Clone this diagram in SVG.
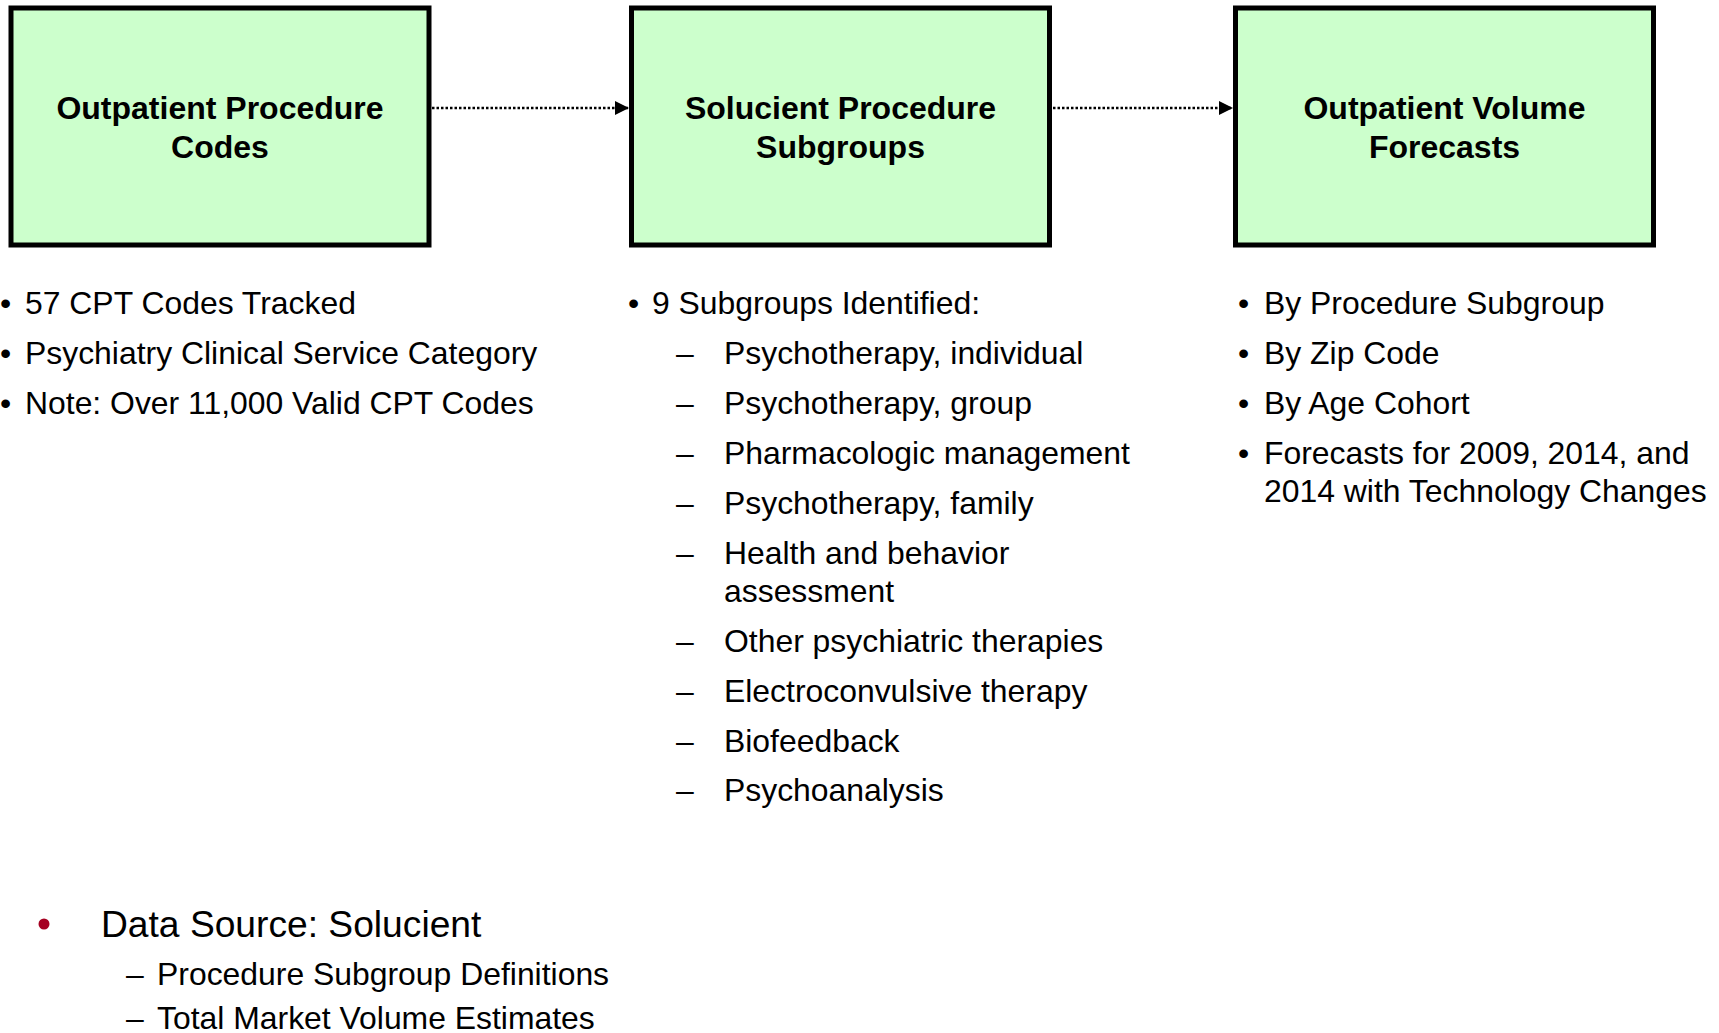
<svg xmlns="http://www.w3.org/2000/svg" width="1719" height="1033" viewBox="0 0 1719 1033">
<style>
.box{fill:#CCFFCC;stroke:#000;stroke-width:5}
.title{font-family:"Liberation Sans",Arial,sans-serif;font-weight:bold;font-size:32px;fill:#000;text-anchor:middle}
.t{font-family:"Liberation Sans",Arial,sans-serif;font-size:31.9px;fill:#000}
.big{font-family:"Liberation Sans",Arial,sans-serif;font-size:37.2px;fill:#000}
.conn{stroke:#000;stroke-width:2.5;stroke-dasharray:2.5 2;fill:none}
</style>
<defs>
<marker id="arr" viewBox="0 0 10 10" refX="10" refY="5" markerWidth="14" markerHeight="15" markerUnits="userSpaceOnUse" orient="auto">
<path d="M0,0 L10,5 L0,10 z" fill="#000"/>
</marker>
</defs>
<g id="connectors">
<line class="conn" x1="432" y1="108" x2="629" y2="108" marker-end="url(#arr)"/>
<line class="conn" x1="1053" y1="108" x2="1233" y2="108" marker-end="url(#arr)"/>
</g>
<g id="node-codes">
<rect class="box" x="11" y="8" width="418" height="237"/>
<text class="title" x="220" y="119">Outpatient Procedure</text>
<text class="title" x="220" y="158">Codes</text>
</g>
<g id="node-subgroups">
<rect class="box" x="631.5" y="8" width="418" height="237"/>
<text class="title" x="840.5" y="119">Solucient Procedure</text>
<text class="title" x="840.5" y="158">Subgroups</text>
</g>
<g id="node-forecasts">
<rect class="box" x="1235.5" y="8" width="418" height="237"/>
<text class="title" x="1444.5" y="119">Outpatient Volume</text>
<text class="title" x="1444.5" y="158">Forecasts</text>
</g>
<g id="notes-codes" class="t">
<text x="0" y="314">•</text><text x="25" y="314">57 CPT Codes Tracked</text>
<text x="0" y="364">•</text><text x="25" y="364">Psychiatry Clinical Service Category</text>
<text x="0" y="414">•</text><text x="25" y="414">Note: Over 11,000 Valid CPT Codes</text>
</g>
<g id="notes-subgroups" class="t">
<text x="628" y="314">•</text><text x="652" y="314">9 Subgroups Identified:</text>
<text x="676" y="364">–</text><text x="724" y="364">Psychotherapy, individual</text>
<text x="676" y="414">–</text><text x="724" y="414">Psychotherapy, group</text>
<text x="676" y="464">–</text><text x="724" y="464">Pharmacologic management</text>
<text x="676" y="514">–</text><text x="724" y="514">Psychotherapy, family</text>
<text x="676" y="564">–</text><text x="724" y="564">Health and behavior</text>
<text x="724" y="602">assessment</text>
<text x="676" y="652">–</text><text x="724" y="652">Other psychiatric therapies</text>
<text x="676" y="702">–</text><text x="724" y="702">Electroconvulsive therapy</text>
<text x="676" y="752">–</text><text x="724" y="752">Biofeedback</text>
<text x="676" y="801">–</text><text x="724" y="801">Psychoanalysis</text>
</g>
<g id="notes-forecasts" class="t">
<text x="1238" y="314">•</text><text x="1264" y="314">By Procedure Subgroup</text>
<text x="1238" y="364">•</text><text x="1264" y="364">By Zip Code</text>
<text x="1238" y="414">•</text><text x="1264" y="414">By Age Cohort</text>
<text x="1238" y="464">•</text><text x="1264" y="464">Forecasts for 2009, 2014, and</text>
<text x="1264" y="502">2014 with Technology Changes</text>
</g>
<g id="data-source">
<circle cx="44" cy="924" r="5.5" fill="#A50021"/>
<text class="big" x="101" y="937">Data Source: Solucient</text>
<text class="t" x="126" y="985">–</text><text class="t" x="157" y="985">Procedure Subgroup Definitions</text>
<text class="t" x="126" y="1029">–</text><text class="t" x="157" y="1029">Total Market Volume Estimates</text>
</g>
</svg>
